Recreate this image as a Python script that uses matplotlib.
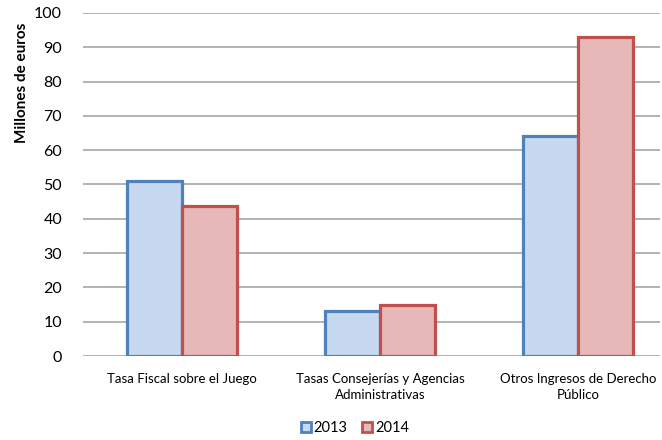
import matplotlib
matplotlib.use("Agg")
import matplotlib.pyplot as plt
from matplotlib.patches import Patch
import numpy as np

categories = ["Tasa Fiscal sobre el Juego",
              "Tasas Consejerías y Agencias\nAdministrativas",
              "Otros Ingresos de Derecho\nPúblico"]
values_2013 = [51.1, 13.1, 64.1]
values_2014 = [43.8, 14.9, 93.0]
series_labels = ["2013", "2014"]
yticks = [0, 10, 20, 30, 40, 50, 60, 70, 80, 90, 100]

plt.rcParams['font.family'] = ['Lato', 'DejaVu Sans']

fig = plt.figure(figsize=(6.62, 4.40), dpi=100)
ax = fig.add_axes([83/662, 1-356/440, (660-83)/662, (356-13)/440])

x = np.arange(len(categories))
w = 0.278
blue_edge, blue_fill = "#4F81BD", "#C6D9F1"
red_edge, red_fill = "#C0504D", "#E6B9B8"
ax.bar(x - w/2, values_2013, w, color=blue_fill, edgecolor=blue_edge, linewidth=2.3, zorder=3)
ax.bar(x + w/2, values_2014, w, color=red_fill, edgecolor=red_edge, linewidth=2.3, zorder=3)

ax.set_xlim(-0.5, 2.414)
ax.set_ylim(0, 100)
ax.set_yticks(yticks)
ax.set_yticklabels([str(v) for v in yticks], fontsize=11.5)
ax.yaxis.grid(True, color="#A6A6A6", linewidth=1.2, zorder=0)
ax.tick_params(axis='y', length=0, pad=15)
ax.tick_params(axis='x', length=0, pad=12)
ax.set_xticks(x)
ax.set_xticklabels(categories, fontsize=9.5, linespacing=1.45)
for s in ax.spines.values():
    s.set_visible(False)
ax.set_ylabel("Millones de euros", fontsize=11, fontweight='bold')
ax.yaxis.set_label_coords(-0.094, 0.796)

handles = [Patch(facecolor=blue_fill, edgecolor=blue_edge, linewidth=2),
           Patch(facecolor=red_fill, edgecolor=red_edge, linewidth=2)]
fig.legend(handles, series_labels, loc='center', bbox_to_anchor=(355/662, 1-428/440),
           ncol=2, frameon=False, fontsize=10.5, handlelength=0.7, handleheight=0.7,
           handletextpad=0.2, columnspacing=1.0)

fig.savefig("out.png", dpi=100)
